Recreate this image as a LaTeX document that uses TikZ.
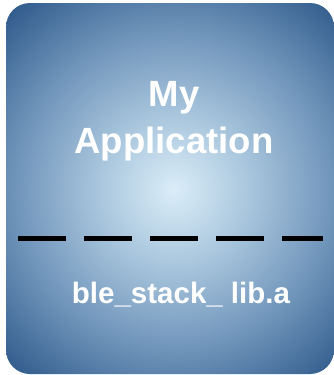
\documentclass[tikz,border=0pt]{standalone}
\usepackage{fontspec}
\setmainfont{Liberation Sans}
\definecolor{glowin}{HTML}{DAEDF8}
\definecolor{glowmid}{HTML}{A9C6DD}
\definecolor{glowlow}{HTML}{6F94BA}
\definecolor{glowout}{HTML}{2C5788}
% the middle 50bp square of a shading is fitted to the path, so 25bp is the rim
\pgfdeclareradialshading{panelglow}{\pgfpoint{0bp}{0bp}}{%
  color(0bp)=(glowin); color(7.5bp)=(glowmid); color(16bp)=(glowlow);
  color(25bp)=(glowout); color(50bp)=(glowout)}
\tikzset{
  panel/.style={rounded corners=24pt},
  caption/.style={text=white, font=\bfseries, inner sep=0pt, anchor=base},
  divider/.style={line width=5pt, draw=black, dash pattern=on 48pt off 18pt}
}
\begin{document}
\begin{tikzpicture}[x=1pt, y=1pt]
  \useasboundingbox (0,0) rectangle (333,-375);
  % rounded panel with a soft central glow
  \begin{scope}
    \clip[panel] (6,-3) rectangle (334,-374);
    \shade[shading=panelglow] (174,-190) circle[radius=250pt];
  \end{scope}
  % titles
  \node[caption, font=\fontsize{36.5}{44}\selectfont\bfseries] (my) at (174,-106) {My};
  \node[caption, font=\fontsize{36.5}{44}\selectfont\bfseries] (app) at (174,-153) {Application};
  % dashed divider
  \coordinate (divL) at (18,-238);
  \coordinate (divR) at (323,-238);
  \draw[divider] (divL) -- (divR);
  % library name
  \node[caption, font=\fontsize{29.5}{36}\selectfont\bfseries] (lib) at (181,-303) {ble\_stack\_ lib.a};
\end{tikzpicture}
\end{document}
